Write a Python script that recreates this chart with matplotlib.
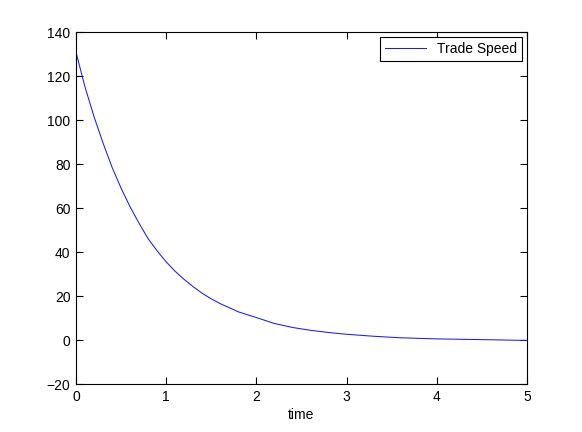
import matplotlib
matplotlib.use("Agg")
import matplotlib.pyplot as plt

time = [0, 0.1, 0.2, 0.3, 0.4, 0.5, 0.6, 0.7, 0.8, 0.9, 1.0, 1.1, 1.2, 1.3, 1.4, 1.5,
        1.6, 1.8, 2.0, 2.2, 2.4, 2.6, 2.8, 3.0, 3.3, 3.6, 4.0, 4.3, 4.6, 5.0]
speed = [130.8, 115, 101.5, 89.5, 78.5, 69, 60.5, 53, 46, 40.5, 35.5, 31.2, 27.5, 24.2,
         21.2, 18.7, 16.5, 12.8, 10.2, 7.5, 5.7, 4.4, 3.4, 2.6, 1.7, 1.0, 0.5, 0.3, 0.1, -0.2]
xticks = [0, 1, 2, 3, 4, 5]
yticks = [-20, 0, 20, 40, 60, 80, 100, 120, 140]

plt.rcParams['font.family'] = ['Liberation Sans', 'DejaVu Sans']
plt.rcParams['font.size'] = 10

fig = plt.figure(figsize=(5.82, 4.32), dpi=100)
ax = fig.add_axes([76/582, 48/432, 451/582, 352/432])
ax.plot(time, speed, color='#1a1aff', lw=0.75, label='Trade Speed')
ax.set_xlim(0, 5)
ax.set_ylim(-20, 140)
ax.set_xticks(xticks)
ax.set_yticks(yticks)
ax.set_yticklabels([str(v).replace('-', '\u2212') for v in yticks])
ax.tick_params(direction='in', length=5, width=0.8, top=True, right=True, labelsize=10, pad=4)
for s in ax.spines.values():
    s.set_linewidth(0.8)
ax.set_xlabel('time', fontsize=10, labelpad=3)
leg = ax.legend(loc='upper right', fancybox=False, edgecolor='black', framealpha=1,
                handlelength=3.0, borderaxespad=0.35, borderpad=0.35, fontsize=10)
leg.get_frame().set_linewidth(0.8)
fig.savefig('out.png', dpi=100)
